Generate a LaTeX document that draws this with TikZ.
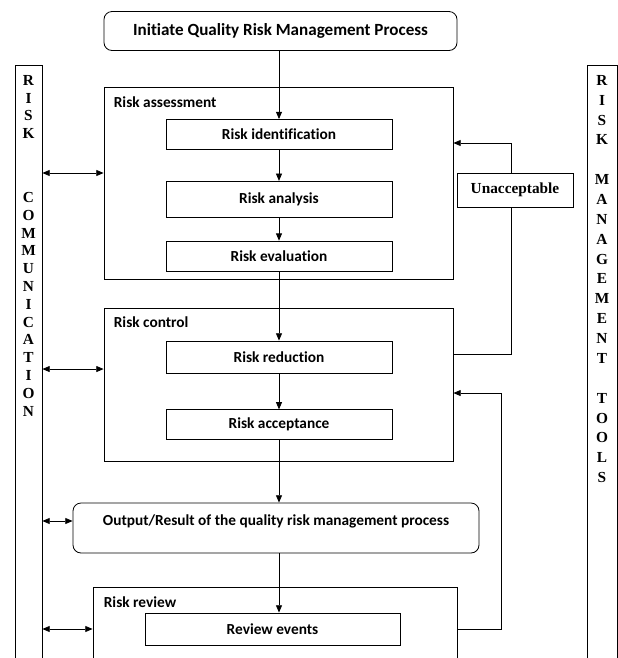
\documentclass[tikz,border=0pt]{standalone}
\usepackage{fontspec}
\setmainfont{Carlito}[Ligatures=NoCommon]
\newfontfamily\tnr{Liberation Serif}
\usetikzlibrary{positioning, arrows.meta}

\begin{document}
\begin{tikzpicture}[
    x=0.75pt, y=-0.75pt,
    font=\fontsize{11.5}{13}\selectfont\bfseries,
    box/.style={draw, line width=0.6pt, minimum width=169.5pt, minimum height=22.5pt, inner sep=0pt},
    rbox/.style={box, rounded corners=6pt},
    frame/.style={draw, line width=0.6pt, inner sep=0pt},
    lbl/.style={anchor=west, inner sep=0pt},
    vtext/.style={anchor=north, inner sep=0pt, align=center, font=\tnr\fontsize{11.5}{13.35}\selectfont\bfseries},
    arrow/.style={-{Triangle[length=5.5pt,width=4.5pt]}, line width=0.6pt},
    both/.style={{Triangle[length=5.5pt,width=4.5pt]}-{Triangle[length=5.5pt,width=4.5pt]}, line width=0.6pt}
]
\useasboundingbox (0,0) rectangle (618,658);
\clip (0,0) rectangle (618,658);

% start
\node[rbox, minimum width=264.75pt, minimum height=29.25pt, font=\fontsize{12.8}{14}\selectfont\bfseries] (init) at (280.5,31) {Initiate Quality Risk Management Process};

% side columns
\node[frame, minimum width=20.25pt, minimum height=480pt, anchor=north] (leftcol) at (28.5,65) {};
\node[frame, minimum width=22.5pt, minimum height=480pt, anchor=north] (rightcol) at (602,65) {};
\node[vtext] (risk) at ([yshift=-7.5pt]leftcol.north) {R\\I\\S\\K};
\node[vtext] (comm) at ([yshift=-95.25pt]leftcol.north) {C\\O\\M\\M\\U\\N\\I\\C\\A\\T\\I\\O\\N};
\node[vtext, font=\tnr\fontsize{11.5}{14.9}\selectfont\bfseries] (tools) at ([yshift=-7.5pt]rightcol.north)
    {R\\I\\S\\K\\[14.9pt]M\\A\\N\\A\\G\\E\\M\\E\\N\\T\\[14.9pt]T\\O\\O\\L\\S};

% risk assessment
\node[frame, minimum width=261.75pt, minimum height=144pt] (assess) at (278.5,183) {};
\node[lbl] (assesslbl) at ([xshift=7.5pt,yshift=-12pt]assess.north west) {Risk assessment};
\node[box] (ident) at (279,134.5) {Risk identification};
\node[box, minimum height=27pt, below=23.25pt of ident] (analysis) {Risk analysis};
\node[box, below=17.25pt of analysis] (evaluation) {Risk evaluation};

% risk control
\node[frame, minimum width=261.75pt, minimum height=114.75pt] (control) at (278.5,384.5) {};
\node[lbl] (controllbl) at ([xshift=7.5pt,yshift=-11.25pt]control.north west) {Risk control};
\node[box, minimum height=24pt] (reduction) at (279,357) {Risk reduction};
\node[box, below=27pt of reduction] (acceptance) {Risk acceptance};

% output
\node[rbox, minimum width=304.5pt, minimum height=37.5pt, text height=9pt, text depth=12.5pt] (output) at (276,528)
    {Output/Result of the quality risk management process};

% risk review
\node[frame, minimum width=273pt, minimum height=105pt, anchor=north] (review) at (275,587) {};
\node[lbl] (reviewlbl) at ([xshift=8.25pt,yshift=-11.25pt]review.north west) {Risk review};
\node[box, minimum width=191.25pt, minimum height=24pt] (events) at (272.5,629) {Review events};

% unacceptable
\node[box, font=\tnr\fontsize{11.5}{13}\selectfont\bfseries, minimum width=87pt, minimum height=25.5pt] (unacc) at (515,190) {Unacceptable};

% main flow
\draw[arrow] (init.south -| ident) -- (ident.north);
\draw[arrow] (ident) -- (analysis);
\draw[arrow] (analysis) -- (evaluation);
\draw[arrow] (evaluation) -- (reduction);
\draw[arrow] (reduction) -- (acceptance);
\draw[arrow] (acceptance.south) -- (acceptance.south |- output.north);
\draw[arrow] (output.south -| acceptance) -- (acceptance |- events.north);

% communication arrows
\coordinate (a1) at ([yshift=7.5pt]assess.west);
\coordinate (c1) at ([yshift=11.6pt]control.west);
\coordinate (o1) at ([yshift=5.25pt]output.west);
\draw[both] (leftcol.east |- a1) -- (a1);
\draw[both] (leftcol.east |- c1) -- (c1);
\draw[both] (leftcol.east |- o1) -- (o1);
\draw[both] (leftcol.east |- events) -- (review.west |- events);

% feedback loops
\coordinate (ub) at ([xshift=-3pt]unacc.south);
\coordinate (ut) at ([xshift=-3pt]unacc.north);
\coordinate (c2) at ([yshift=22.9pt]control.east);
\coordinate (a2) at ([yshift=30pt]assess.east);
\coordinate (c3) at ([yshift=-6.4pt]control.east);
\draw[line width=0.6pt] (c2) -| (ub);
\draw[arrow] (ut) |- (a2);
\draw[arrow] (review.east |- events) -- ++(33pt,0) |- (c3);

\end{tikzpicture}
\end{document}
